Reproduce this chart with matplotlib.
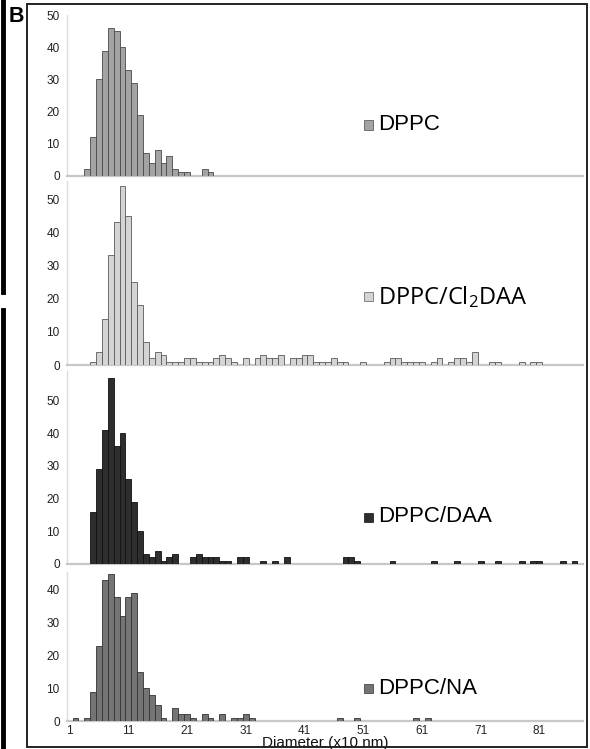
import matplotlib
matplotlib.use("Agg")
import matplotlib.pyplot as plt
from matplotlib.lines import Line2D
from matplotlib.patches import Rectangle

plt.rcParams['font.family'] = ['Liberation Sans', 'DejaVu Sans']

# size bins (category index on the x axis, 1 = first class) and counts
dppc_bins = [4, 5, 6, 7, 8, 9, 10, 11, 12, 13, 14, 15, 16, 17, 18, 19, 20, 21, 24, 25]
dppc_counts = [2, 12, 30, 39, 46, 45, 40, 33, 29, 19, 7, 4, 8, 4, 6, 2, 1, 1, 2, 1]

cl2daa_bins = [5, 6, 7, 8, 9, 10, 11, 12, 13, 14, 15, 16, 17, 18, 19, 20, 21, 22, 23, 24,
               25, 26, 27, 28, 29, 31, 33, 34, 35, 36, 37, 39, 40, 41, 42, 43, 44, 45, 46,
               47, 48, 51, 55, 56, 57, 58, 59, 60, 61, 63, 64, 66, 67, 68, 69, 70, 73, 74,
               78, 80, 81]
cl2daa_counts = [1, 4, 14, 33, 43, 54, 45, 25, 18, 7, 2, 4, 3, 1, 1, 1, 2, 2, 1, 1,
                 1, 2, 3, 2, 1, 2, 2, 3, 2, 2, 3, 2, 2, 3, 3, 1, 1, 1, 2,
                 1, 1, 1, 1, 2, 2, 1, 1, 1, 1, 1, 2, 1, 2, 2, 1, 4, 1, 1,
                 1, 1, 1]

daa_bins = [5, 6, 7, 8, 9, 10, 11, 12, 13, 14, 15, 16, 17, 18, 19, 22, 23, 24, 25, 26,
            27, 28, 30, 31, 34, 36, 38, 48, 49, 50, 56, 63, 67, 71, 74, 78, 80, 81, 85, 87]
daa_counts = [16, 29, 41, 57, 36, 40, 26, 19, 10, 3, 2, 4, 1, 2, 3, 2, 3, 2, 2, 2,
              1, 1, 2, 2, 1, 1, 2, 2, 2, 1, 1, 1, 1, 1, 1, 1, 1, 1, 1, 1]

na_bins = [2, 4, 5, 6, 7, 8, 9, 10, 11, 12, 13, 14, 15, 16, 17, 19, 20, 21, 22, 24,
           25, 27, 29, 30, 31, 32, 47, 50, 60, 62]
na_counts = [1, 1, 9, 23, 43, 45, 38, 32, 38, 39, 15, 10, 8, 5, 1, 4, 2, 2, 1, 2,
             1, 2, 1, 1, 2, 1, 1, 1, 1, 1]

labels = ['DPPC', r'DPPC/Cl$\mathregular{_2}$DAA', 'DPPC/DAA', 'DPPC/NA']
x_ticks = [1, 11, 21, 31, 41, 51, 61, 71, 81]
y_ticks = [0, 10, 20, 30, 40, 50]

W, H = 590, 749
fig = plt.figure(figsize=(W / 100, H / 100), dpi=100)


def fx(px):
    return px / W


def fy(py):
    return 1 - py / H


# panel layout in pixels: baseline, px per count, y max
panels = [
    dict(bins=dppc_bins, counts=dppc_counts, base=175.7, scale=3.21, ymax=50,
         fill='#a3a3a3', edge='#4a4a4a', label_y=125, font='Liberation Sans', fs=16),
    dict(bins=cl2daa_bins, counts=cl2daa_counts, base=365, scale=3.32, ymax=55.5,
         fill='#d4d4d4', edge='#5a5a5a', label_y=297, font='Open Sans', fs=17),
    dict(bins=daa_bins, counts=daa_counts, base=564, scale=3.27, ymax=59,
         fill='#2e2e2e', edge='#111111', label_y=517, font='Liberation Sans', fs=16),
    dict(bins=na_bins, counts=na_counts, base=721, scale=3.275, ymax=45.5,
         fill='#747474', edge='#333333', label_y=688, font='Liberation Sans', fs=16),
]

x_left, x_right = 66.7, 583.3
for i, p in enumerate(panels):
    h_px = p['ymax'] * p['scale']
    ax = fig.add_axes([fx(x_left), fy(p['base']), (x_right - x_left) / W, h_px / H])
    ax.bar(p['bins'], p['counts'], width=1.0, color=p['fill'],
           edgecolor=p['edge'], linewidth=0.6, zorder=3)
    ax.set_xlim(0.5, 88.5)
    ax.set_ylim(0, p['ymax'])
    ax.set_yticks(y_ticks if p['ymax'] >= 50 else y_ticks[:-1])
    ax.patch.set_alpha(0)
    for s in ['top', 'right']:
        ax.spines[s].set_visible(False)
    ax.spines['left'].set_color('#dcdcdc')
    ax.spines['left'].set_linewidth(1.0)
    ax.spines['bottom'].set_color('#c8c8c8')
    ax.spines['bottom'].set_linewidth(1.6)
    ax.tick_params(axis='y', length=0, pad=5, labelsize=8.5, colors='#222222')
    ax.tick_params(axis='x', length=0, pad=3, labelsize=8.5, colors='#222222')
    if i == 3:
        ax.set_xticks(x_ticks)
        ax.set_xlabel('Diameter (x10 nm)', fontsize=11, labelpad=-1, color='#111111')
    else:
        ax.set_xticks([])

    # legend entry: small square plus series name
    ly = p['label_y']
    fig.patches.append(Rectangle((fx(364), fy(ly + 4.5)), 9 / W, 9 / H,
                                 transform=fig.transFigure, facecolor=p['fill'],
                                 edgecolor=p['edge'], linewidth=0.5))
    fig.text(fx(378), fy(ly), labels[i], fontsize=p['fs'], va='center', ha='left',
             family=[p['font'], 'DejaVu Sans'], color='black')

# outer frame and panel letter
fig.add_artist(Rectangle((fx(26.5), fy(747)), (587 - 26.5) / W, (747 - 4) / H,
                         transform=fig.transFigure, fill=False,
                         edgecolor='#222222', linewidth=1.4))
fig.text(fx(8.5), fy(17), 'B', fontsize=15.5, fontweight='bold', va='center', ha='left',
         color='black')
fig.add_artist(Line2D([fx(2.5), fx(2.5)], [fy(0), fy(292)], color='black',
                      linewidth=3.5, transform=fig.transFigure))
fig.add_artist(Line2D([fx(2.5), fx(2.5)], [fy(310), fy(749)], color='black',
                      linewidth=3.5, transform=fig.transFigure))

fig.savefig('out.png', dpi=100)
